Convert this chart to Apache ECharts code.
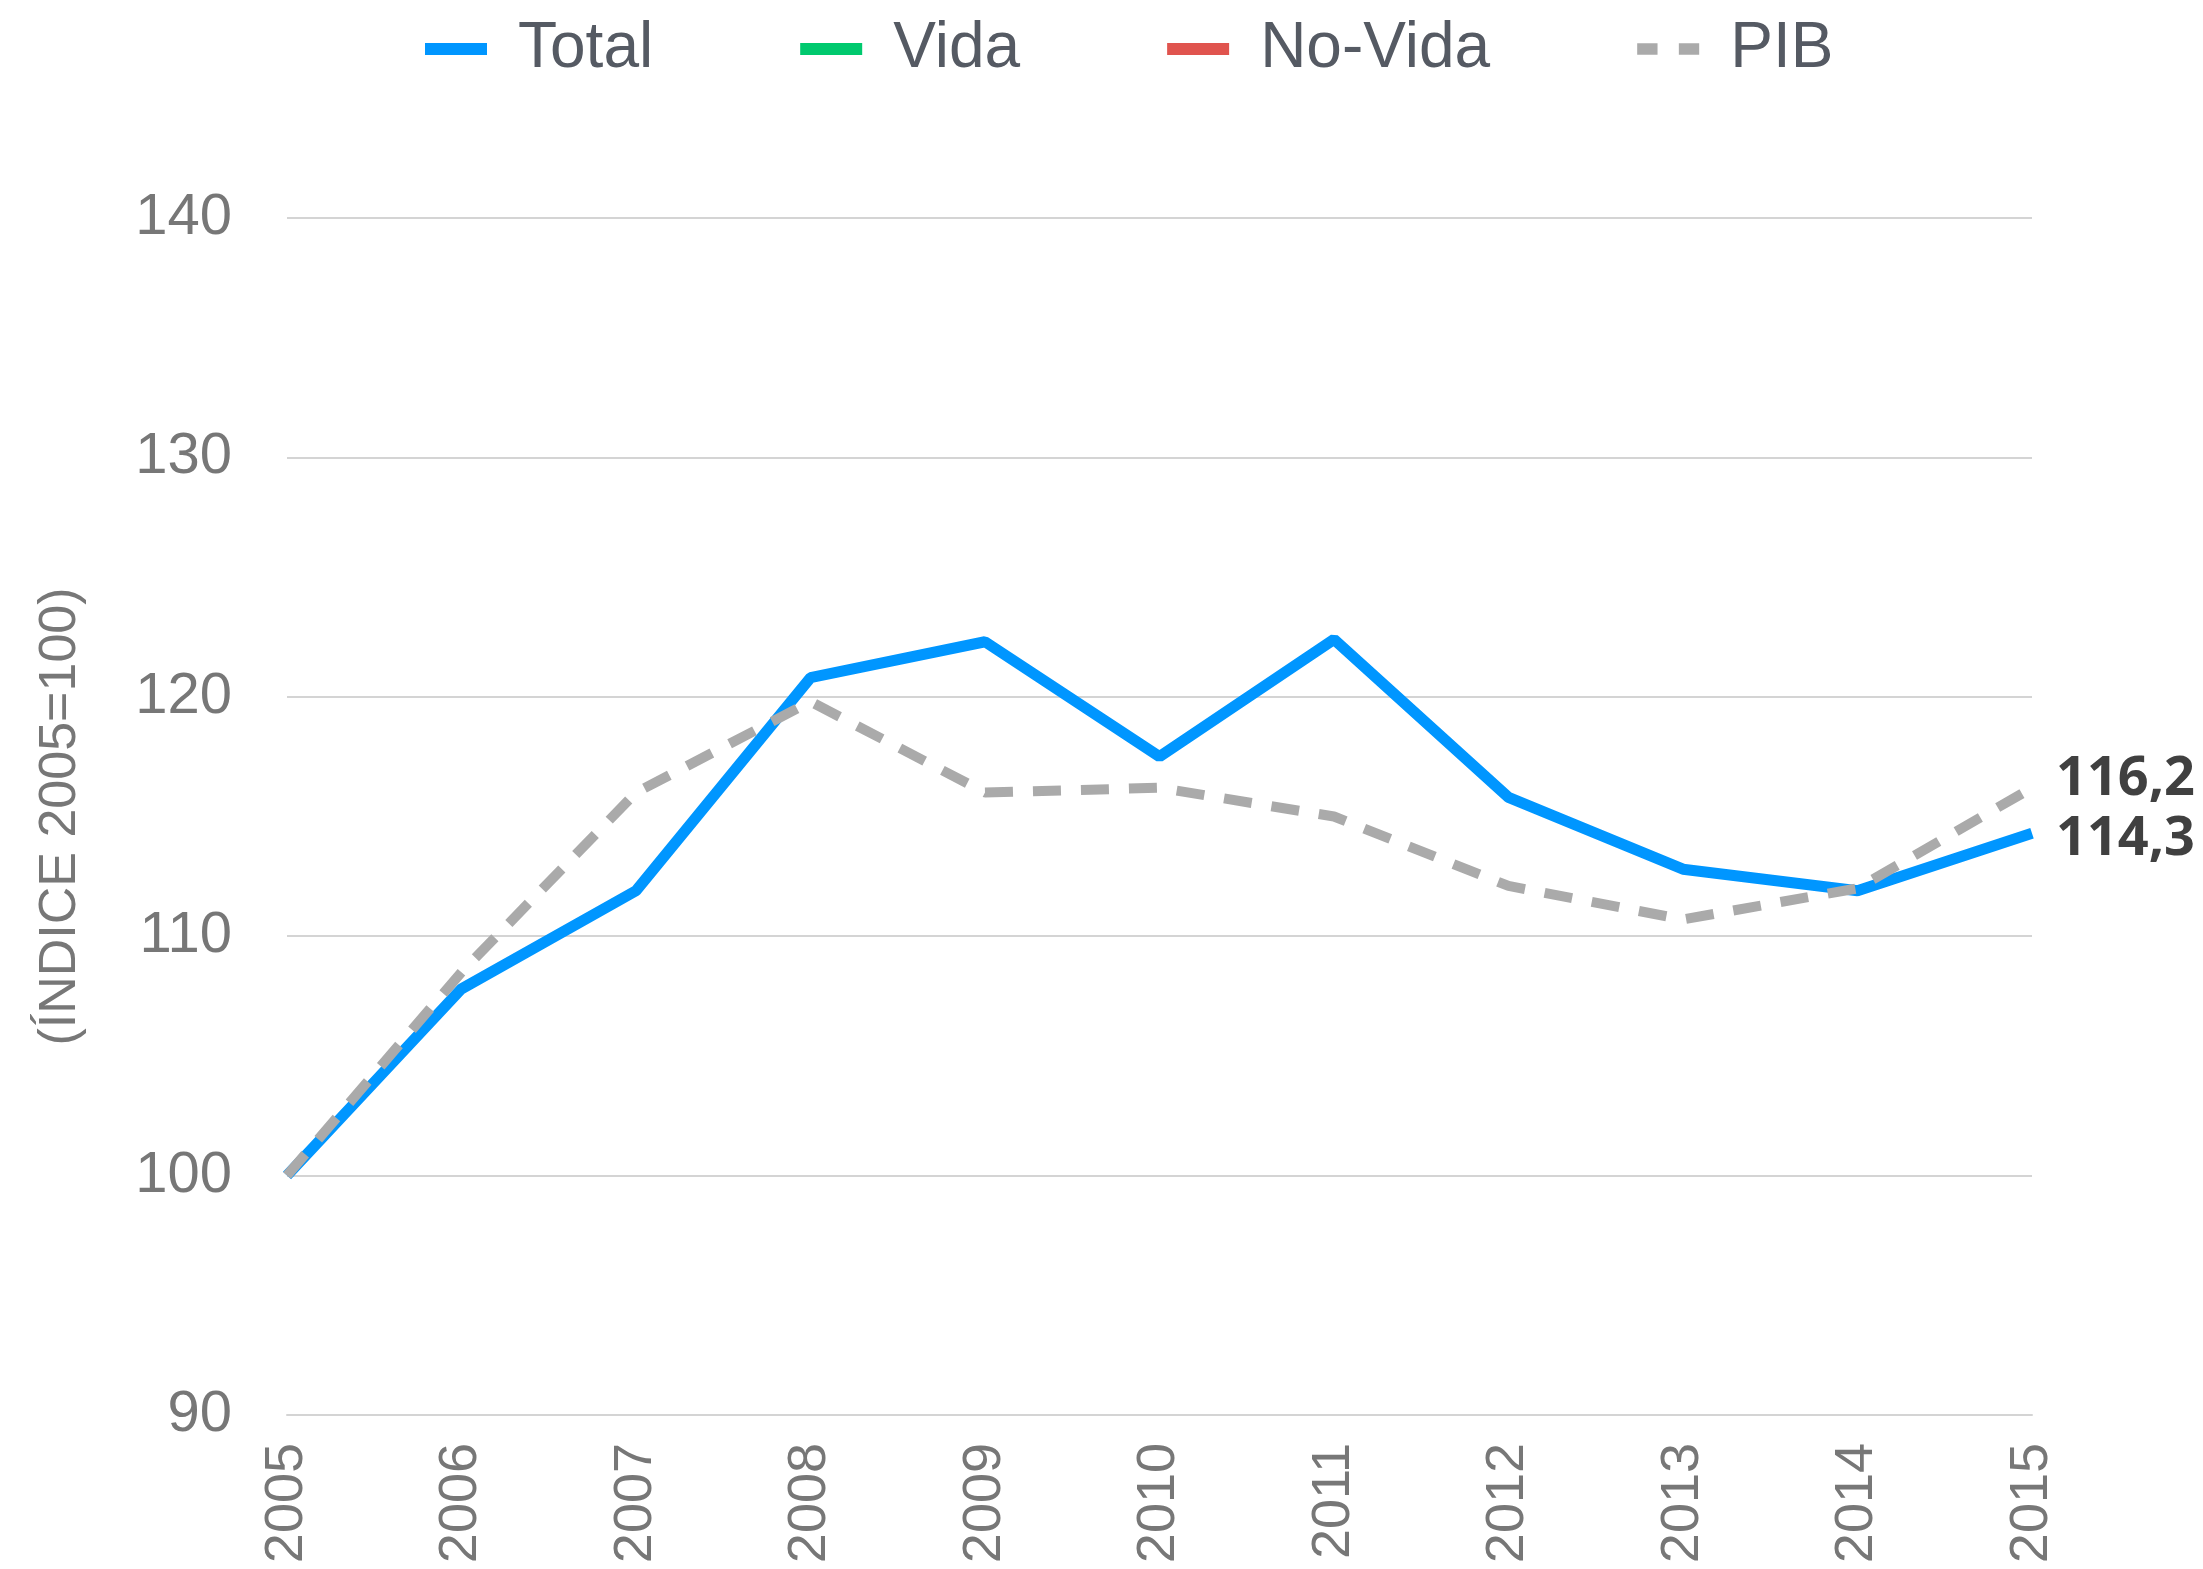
<!DOCTYPE html>
<html>
<head>
<meta charset="utf-8">
<script src="https://cdn.jsdelivr.net/npm/echarts@6/dist/echarts.min.js"></script>
<style>
  html, body { margin: 0; padding: 0; background: #fff; }
  #chart { width: 2203px; height: 1569px; }
</style>
</head>
<body>
<div id="chart"></div>
<script>
// años del eje x
const years = ['2005', '2006', '2007', '2008', '2009', '2010', '2011', '2012', '2013', '2014', '2015']
// índice 2005=100
const total = [100, 107.8, 111.9, 120.8, 122.3, 117.5, 122.4, 115.8, 112.8, 111.9, 114.3]
const vida = []
const noVida = []
const pib = [100, 108.5, 116.0, 119.8, 116.0, 116.2, 115.0, 112.1, 110.7, 112.0, 116.2]

const fmt = p => p.value.toFixed(1).replace('.', ',')

const ch = echarts.init(document.getElementById('chart'))
const endLabel = {
  show: true,
  formatter: fmt,
  color: '#404040',
  fontFamily: 'Open Sans',
  fontWeight: 'bold',
  fontSize: 54,
  distance: 24
}
const dashIcon = 'path://M0,0h21v12h-21z M43,0h21v12h-21z'
const option = {
  animation: false,
  legend: {
    top: 12,
    left: 420,
    itemWidth: 62,
    itemHeight: 12,
    itemGap: 147,
    data: [
      { name: 'Total', icon: 'rect' },
      { name: 'Vida', icon: 'rect' },
      { name: 'No-Vida', icon: 'rect' },
      { name: 'PIB', icon: dashIcon }
    ],
    textStyle: {
      color: '#555a63',
      fontSize: 64,
      padding: [0, 0, 0, 26],
      fontFamily: "'Liberation Sans Narrow', 'Liberation Sans', sans-serif"
    }
  },
  grid: {
    left: 287,
    right: 171,
    top: 218,
    bottom: 154
  },
  xAxis: {
    type: 'category',
    data: years,
    boundaryGap: false,
    axisLine: { lineStyle: { color: '#d4d4d4', width: 2 } },
    axisTick: { show: false },
    axisLabel: {
      rotate: 90,
      margin: 28,
      color: '#777',
      fontSize: 54,
      fontFamily: 'Liberation Sans'
    }
  },
  yAxis: {
    type: 'value',
    min: 90,
    max: 140,
    interval: 10,
    name: '(ÍNDICE 2005=100)',
    nameLocation: 'middle',
    nameGap: 200,
    nameTextStyle: {
      color: '#777',
      fontSize: 52,
      fontFamily: "'Liberation Sans Narrow', 'Liberation Sans', sans-serif"
    },
    axisLine: { show: false },
    axisTick: { show: false },
    splitLine: { lineStyle: { color: '#d4d4d4', width: 2 } },
    axisLabel: {
      margin: 55,
      color: '#777',
      fontSize: 58,
      fontFamily: 'Liberation Sans'
    }
  },
  series: [
    {
      name: 'Total', type: 'line', data: total, symbol: 'none',
      lineStyle: { color: '#0096FF', width: 11 },
      itemStyle: { color: '#0096FF' },
      endLabel: Object.assign({}, endLabel, { offset: [0, 6] })
    },
    {
      name: 'Vida', type: 'line', data: vida, symbol: 'none',
      lineStyle: { color: '#00C96E', width: 10 },
      itemStyle: { color: '#00C96E' }
    },
    {
      name: 'No-Vida', type: 'line', data: noVida, symbol: 'none',
      lineStyle: { color: '#E0544E', width: 10 },
      itemStyle: { color: '#E0544E' }
    },
    {
      name: 'PIB', type: 'line', data: pib, symbol: 'none',
      lineStyle: { color: '#AAAAAA', width: 10, type: [28, 20] },
      itemStyle: { color: '#AAAAAA' },
      endLabel: Object.assign({}, endLabel, { offset: [0, -8] })
    }
  ]
}
ch.setOption(option)
</script>
</body>
</html>
